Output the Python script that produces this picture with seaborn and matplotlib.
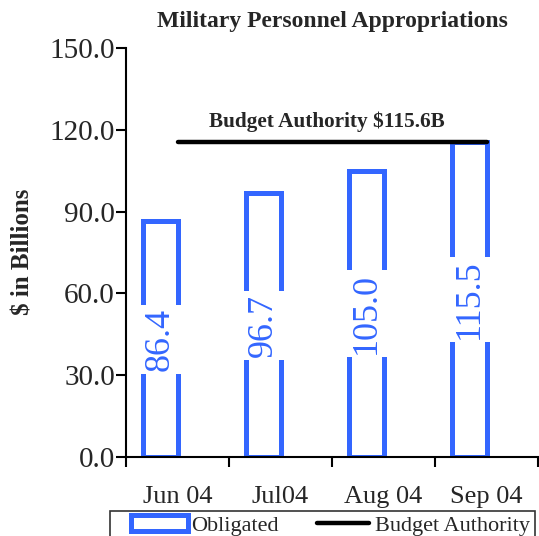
import matplotlib
matplotlib.use('Agg')
import matplotlib.pyplot as plt
import seaborn as sns
import pandas as pd
import numpy as np
from matplotlib.patches import Rectangle
from matplotlib.legend_handler import HandlerPatch, HandlerLine2D

# ── data ─────────────────────────────────────────────────────────
months = ['Jun 04', 'Jul04', 'Aug 04', 'Sep 04']
obligated = [86.4, 96.7, 105.0, 115.5]
budget_authority = [115.6, 115.6, 115.6, 115.6]
yticks = [0, 30, 60, 90, 120, 150]

BLUE = '#3366FF'

sns.set_style('ticks')
plt.rcParams['font.family'] = ['Liberation Serif', 'DejaVu Serif']

df = pd.DataFrame({'month': months, 'obligated': obligated, 'budget': budget_authority})

fig = plt.figure(figsize=(5.39, 5.36), dpi=100)
ax = fig.add_axes([0.2338, 0.1474, 0.7644, 0.763])

# hollow bars, shifted left of the category centre like the original
sns.barplot(data=df, x='month', y='obligated', fill=False, color=BLUE,
            width=0.34, linewidth=3.6, errorbar=None, ax=ax, zorder=2)
for p in ax.patches:
    p.set_x(p.get_x() - 0.165)
    p.set_edgecolor(BLUE)
    p.set_joinstyle('miter')

# budget authority line
sns.lineplot(data=df, x='month', y='budget', color='black', linewidth=3.2,
             ax=ax, zorder=4, solid_capstyle='round')
budget_line = ax.lines[-1]
ax.text(1.45, budget_authority[0] + 7.2, f'Budget Authority ${budget_authority[0]:.1f}B',
        ha='center', va='center', fontsize=15.3, fontweight='bold')

# value labels inside bars; white box wider across the bar than along it
for p, v in zip(ax.patches, obligated):
    ax.text(p.get_x() + p.get_width() / 2, v / 2, f'{v:.1f}', rotation=90,
            ha='center', va='center', color=BLUE, fontsize=26, zorder=3,
            bbox=dict(boxstyle='square,pad=0.08', mutation_aspect=3,
                      facecolor='white', edgecolor='none'))

# axes styling
sns.despine(ax=ax)
for s in ['left', 'bottom']:
    ax.spines[s].set_linewidth(1.5)
    ax.spines[s].set_color('black')

ax.set_ylim(0, 150)
ax.set_yticks(yticks)
ax.set_yticklabels([f'{t:.1f}' for t in yticks], fontsize=21)
ax.set_xlim(-0.5, len(months) - 0.5)
ax.set_xticks(np.arange(len(months) + 1) - 0.5)
ax.set_xticklabels([])
ax.set_xticks(range(len(months)), minor=True)
ax.set_xticklabels(months, minor=True, fontsize=19)
ax.tick_params(axis='x', which='minor', length=0, pad=21)
ax.tick_params(axis='x', which='major', length=7, width=1.5, direction='out', color='black')
ax.tick_params(axis='y', length=7, width=1.5, direction='out', pad=1, color='black')
ax.set_xlabel('')
ax.set_ylabel('')

fig.text(332 / 539, 1 - 21 / 536, 'Military Personnel Appropriations',
         ha='center', va='center', fontsize=17, fontweight='bold')
fig.text(23 / 539, 1 - 252 / 536, '$ in Billions', rotation=90,
         ha='center', va='center', fontsize=18, fontweight='bold')


# legend handles sit in the right part of a wider handle box
def offset_patch(legend, orig_handle, xdescent, ydescent, width, height, fontsize):
    off = width * 0.23
    return Rectangle((-xdescent + off, -ydescent), width - off, height)


class ShortLine(HandlerLine2D):
    def get_xdata(self, legend, xdescent, ydescent, width, height, fontsize):
        x0 = -xdescent + width * 0.25
        x1 = -xdescent + width * 0.96
        return np.array([x0, x1]), np.array([(x0 + x1) / 2])


handles = [ax.patches[0], budget_line]
leg = fig.legend(handles, ['Obligated', 'Budget Authority'], loc='upper left',
                 bbox_to_anchor=(110 / 539, 1 - 511 / 536), ncol=2, frameon=True,
                 fancybox=False, edgecolor='black', fontsize=16, handlelength=3.3,
                 handletextpad=0.15, columnspacing=0.9, borderpad=0.2,
                 borderaxespad=0,
                 handler_map={handles[0]: HandlerPatch(patch_func=offset_patch),
                              handles[1]: ShortLine()})
leg.get_frame().set_linewidth(1.2)

fig.savefig('out.png', dpi=100)
